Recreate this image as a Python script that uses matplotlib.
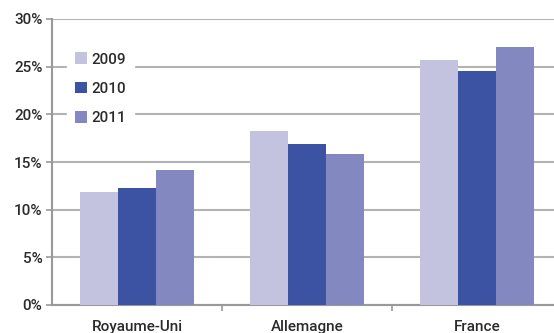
import numpy as np
import matplotlib.pyplot as plt
from matplotlib.ticker import FuncFormatter, FixedLocator

countries = ['Royaume-Uni', 'Allemagne', 'France']
years = ['2009', '2010', '2011']
share_2009 = [11.9, 18.2, 25.7]
share_2010 = [12.3, 16.9, 24.5]
share_2011 = [14.2, 15.8, 27.1]
colors = ['#c3c3e0', '#3c52a3', '#8388c0']

plt.rcParams['font.family'] = ['Roboto', 'DejaVu Sans']
text_color = '#2b2b2b'
grid_color = '#b3b3b3'

fig = plt.figure(figsize=(5.54, 3.33), dpi=100)
ax = fig.add_axes([52 / 554, 1 - 305 / 333, 1 - 52 / 554, (305 - 19) / 333])

x = np.arange(len(countries))
width = 0.222
for i, (vals, year) in enumerate(zip([share_2009, share_2010, share_2011], years)):
    ax.bar(x + (i - 1) * width, vals, width, color=colors[i], label=year, zorder=3)

ax.set_ylim(0, 30)
ax.set_xlim(-0.5, 2.453)
ax.set_yticks(np.arange(0, 31, 5))
ax.yaxis.set_major_formatter(FuncFormatter(lambda v, _: f'{v:.0f}%'))
ax.grid(axis='y', color=grid_color, linewidth=1.5, zorder=0)

ax.set_xticks(x)
ax.set_xticklabels(countries)
ax.xaxis.set_minor_locator(FixedLocator([0.5, 1.5]))
ax.tick_params(axis='x', which='major', length=0, pad=11, labelsize=11,
               labelcolor=text_color)
ax.tick_params(axis='x', which='minor', length=4, width=1.2, color='#999999')
ax.tick_params(axis='y', length=4, width=1.2, color='#999999', pad=3,
               labelsize=11, labelcolor=text_color)
for lbl in ax.get_xticklabels() + ax.get_yticklabels():
    lbl.set_fontweight('medium')

for side in ['top', 'right']:
    ax.spines[side].set_visible(False)
ax.spines['left'].set_color('#999999')
ax.spines['left'].set_linewidth(1.5)
ax.spines['bottom'].set_color('#999999')
ax.spines['bottom'].set_linewidth(1.5)

leg = ax.legend(loc='upper left', bbox_to_anchor=(0.03, 0.91), frameon=True,
                fancybox=False, edgecolor='white', framealpha=1,
                handlelength=0.8, handleheight=0.8, handletextpad=0.3,
                labelspacing=1.0, fontsize=11, borderpad=0.5,
                borderaxespad=0)
for t in leg.get_texts():
    t.set_color(text_color)
    t.set_fontweight('medium')
leg.set_zorder(4)

fig.savefig('out.png', dpi=100)
